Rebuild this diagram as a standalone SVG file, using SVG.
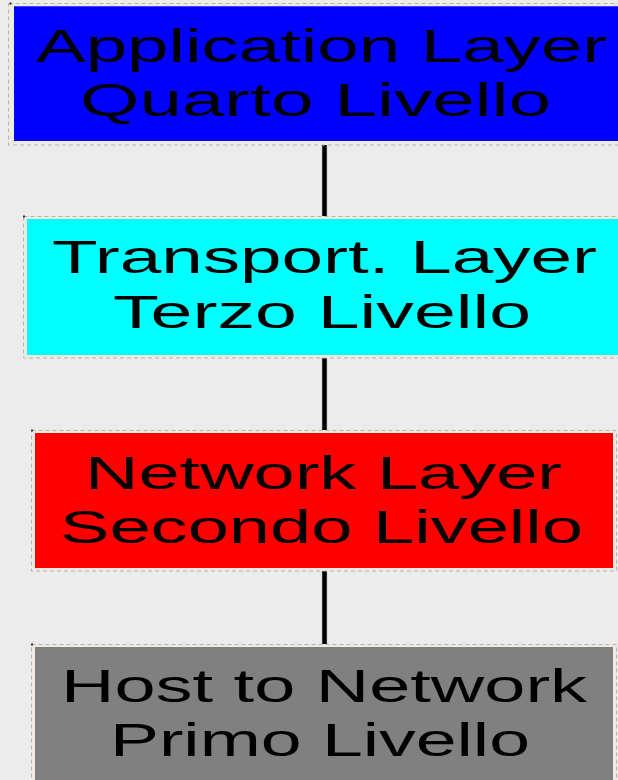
<svg xmlns="http://www.w3.org/2000/svg" width="618" height="780" viewBox="0 0 618 780">
<style>
.frame{fill:#efebde;stroke:#b4b4b4;stroke-width:1;stroke-dasharray:4 3}
.lbl{font-family:"Liberation Sans",Arial,sans-serif;font-size:47px;fill:#000;text-anchor:middle}
.conn{stroke:#000;stroke-width:4.5;fill:none}
.halo{stroke:#d8d8d8;stroke-width:6.5;fill:none}
.tick{fill:#333}
</style>
<rect x="0" y="0" width="618" height="780" fill="#ececec"/>
<g id="connectors">
<line class="halo" x1="324.5" y1="145" x2="324.5" y2="216"/>
<line class="conn" x1="324.5" y1="145" x2="324.5" y2="216"/>
<line class="halo" x1="324.5" y1="358" x2="324.5" y2="430"/>
<line class="conn" x1="324.5" y1="358" x2="324.5" y2="430"/>
<line class="halo" x1="324.5" y1="571" x2="324.5" y2="644"/>
<line class="conn" x1="324.5" y1="571" x2="324.5" y2="644"/>
</g>
<g id="application">
<rect class="frame" x="8.5" y="3.5" width="630" height="141.5"/>
<rect class="tick" x="9.5" y="2.5" width="2" height="2"/>
<rect x="14" y="6" width="620" height="135" fill="#0000ff"/>
<line x1="14" y1="6.5" x2="618" y2="6.5" stroke="#4040ff" stroke-width="1"/>
<text class="lbl" x="321.5" y="62" textLength="571" lengthAdjust="spacingAndGlyphs">Application Layer</text>
<text class="lbl" x="315.5" y="116" textLength="471" lengthAdjust="spacingAndGlyphs">Quarto Livello</text>
</g>
<g id="transport">
<rect class="frame" x="23.5" y="216.5" width="620" height="141.5"/>
<rect class="tick" x="23" y="215.5" width="2" height="2"/>
<rect x="27" y="219" width="610" height="136" fill="#00ffff"/>
<text class="lbl" x="324.5" y="273" textLength="545" lengthAdjust="spacingAndGlyphs">Transport. Layer</text>
<text class="lbl" x="322" y="328" textLength="418" lengthAdjust="spacingAndGlyphs">Terzo Livello</text>
</g>
<g id="network">
<rect class="frame" x="31.5" y="430.5" width="585" height="140.5"/>
<rect class="tick" x="31" y="429.5" width="2" height="2"/>
<rect x="35" y="433" width="578" height="135" fill="#ff0000"/>
<text class="lbl" x="323.5" y="489" textLength="477" lengthAdjust="spacingAndGlyphs">Network Layer</text>
<text class="lbl" x="321.5" y="543" textLength="523" lengthAdjust="spacingAndGlyphs">Secondo Livello</text>
</g>
<g id="host">
<rect class="frame" x="31.5" y="644.5" width="585" height="150"/>
<rect class="tick" x="31" y="643.5" width="2" height="2"/>
<rect x="35" y="647" width="578" height="140" fill="#808080"/>
<text class="lbl" x="324" y="702" textLength="526" lengthAdjust="spacingAndGlyphs">Host to Network</text>
<text class="lbl" x="320" y="756" textLength="420" lengthAdjust="spacingAndGlyphs">Primo Livello</text>
</g>
</svg>
